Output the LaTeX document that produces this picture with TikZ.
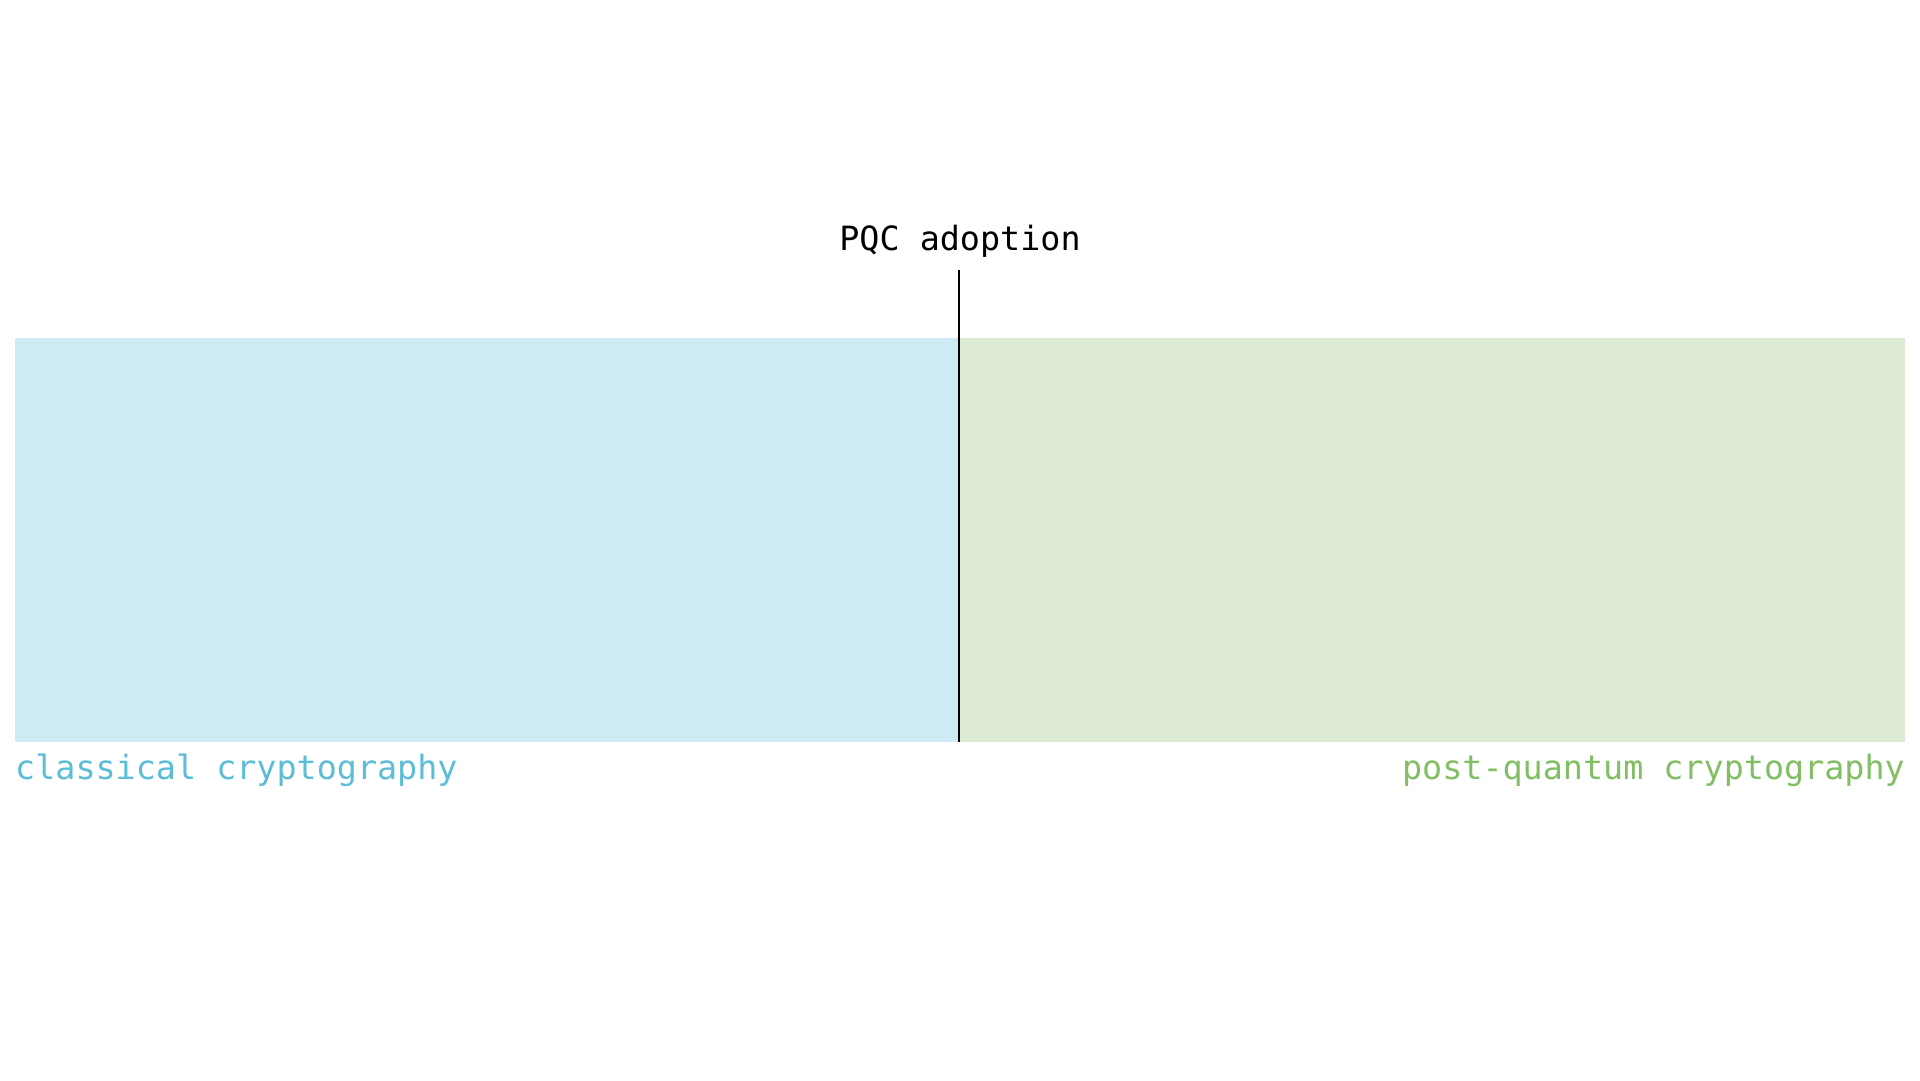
\documentclass[tikz,border=0pt]{standalone}
\usepackage{fontspec}
\usepackage{xcolor}
\usepackage{tikz}
\newfontfamily\labelmono{DejaVu Sans Mono}
\definecolor{classfill}{RGB}{206,235,245}
\definecolor{classtext}{RGB}{91,190,214}
\definecolor{pqcfill}{RGB}{220,235,210}
\definecolor{pqctext}{RGB}{130,190,100}
\tikzset{
  band/.style   ={inner sep=0pt, outer sep=0pt, minimum width=944pt, minimum height=404pt, anchor=south west},
  lab/.style    ={font=\labelmono\fontsize{33.4}{40}\selectfont, inner sep=0pt},
  marker/.style ={draw=black, line width=2.5pt},
}

\begin{document}
\begin{tikzpicture}[x=1pt,y=1pt]
  \useasboundingbox (0,0) rectangle (1920,1080);
  \fill[white] (0,0) rectangle (1920,1080);
  % the two bands
  \node[band,fill=classfill] (classical) at (15,338) {};
  \node[band,fill=pqcfill,minimum width=946pt] (postq) at (classical.south east) {};
  % labels
  \node[lab,text=classtext,anchor=base west] (classlab) at (15,301) {classical cryptography};
  \node[lab,text=pqctext,anchor=base east] (pqclab) at (1905,301) {post-quantum cryptography};
  \node[lab,text=black,anchor=base] (adopt) at (960,829) {PQC adoption};
  % adoption marker
  \coordinate (marktop) at (classical.south east |- 0,810);
  \draw[marker] (marktop) -- (classical.south east);
\end{tikzpicture}
\end{document}
